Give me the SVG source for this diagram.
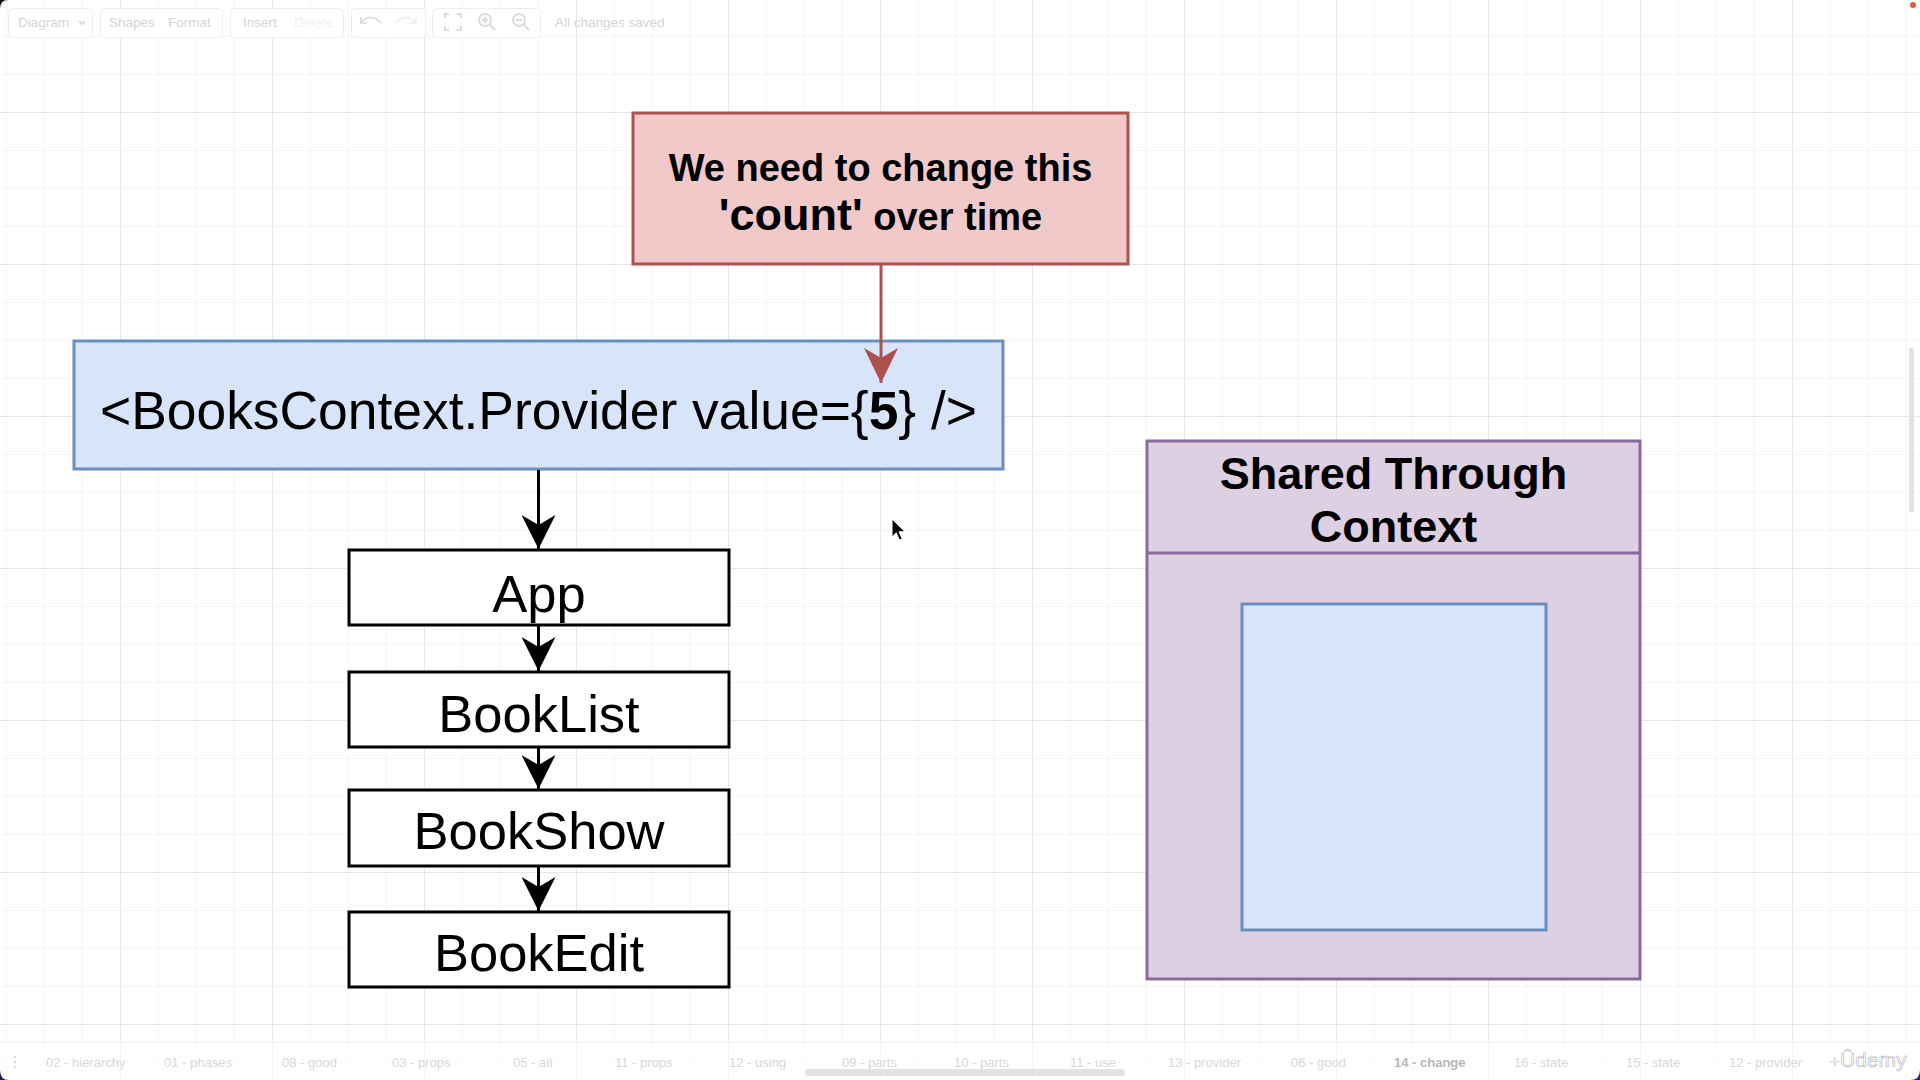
<svg xmlns="http://www.w3.org/2000/svg" width="1920" height="1080" viewBox="0 0 1920 1080">
<style>
.lbl{font-family:"Liberation Sans",Arial,Helvetica,sans-serif;fill:#000;text-anchor:middle}
.b{font-weight:bold}
.blk{fill:#fff;stroke:#000;stroke-width:3}
.ui{font-family:"Liberation Sans",Arial,Helvetica,sans-serif;font-size:13.5px;fill:#d4d4d4}
.tab{font-family:"Liberation Sans",Arial,Helvetica,sans-serif;font-size:13px;fill:#d8d8d8}
.tb{fill:#fff;stroke:#eeeeee;stroke-width:1}
.ico{fill:none;stroke:#dcdcdc;stroke-width:2}
.conn{stroke:#000;stroke-width:3;fill:none}
</style>
<defs>
<pattern id="grid" x="120" y="112" width="152" height="152" patternUnits="userSpaceOnUse">
<path d="M38.5 0V152M76.5 0V152M114.5 0V152M0 38.5H152M0 76.5H152M0 114.5H152" stroke="#f4f4f4" stroke-width="1" fill="none"/>
<path d="M0.5 0V152M0 0.5H152" stroke="#e6e6e6" stroke-width="1" fill="none"/>
</pattern>
<marker id="ahBlack" viewBox="0 0 34 34" markerUnits="userSpaceOnUse" markerWidth="34" markerHeight="34" refX="34" refY="17" orient="auto">
<path d="M0 0L34 17L0 34L10 17Z" fill="#000"/>
</marker>
<marker id="ahRed" viewBox="0 0 35 34" markerUnits="userSpaceOnUse" markerWidth="35" markerHeight="34" refX="35" refY="17" orient="auto">
<path d="M0 0L35 17L0 34L10 17Z" fill="#ac524e"/>
</marker>
</defs>

<rect width="1920" height="1080" fill="#ffffff"/>
<rect width="1920" height="1080" fill="url(#grid)"/>

<!-- top toolbar (faint UI) -->
<g id="toolbar">
<rect class="tb" x="8.5" y="8.5" width="84" height="29" rx="4"/>
<text class="ui" x="18" y="27">Diagram</text>
<path d="M79 21l3 3l3-3" class="ico" stroke-width="1.2"/>
<rect class="tb" x="100.5" y="8.5" width="122" height="29" rx="4"/>
<text class="ui" x="109" y="27">Shapes</text>
<text class="ui" x="168" y="27">Format</text>
<rect class="tb" x="230.5" y="8.5" width="113" height="29" rx="4"/>
<text class="ui" x="243" y="27">Insert</text>
<text class="ui" x="294" y="27" style="fill:#f0f0f0">Delete</text>
<rect class="tb" x="351.5" y="8.5" width="74" height="29" rx="4"/>
<path d="M362 22c5-6 13-6 19 1" class="ico"/><path d="M361 17v6h6" class="ico" stroke-width="1.6"/>
<path d="M415 22c-5-6-13-6-19 1" class="ico" style="stroke:#efefef"/><path d="M416 17v6h-6" class="ico" style="stroke:#efefef" stroke-width="1.6"/>
<rect class="tb" x="432.5" y="8.5" width="108" height="29" rx="4"/>
<path d="M445 18v-4h4M457 14h4v4M461 26v4h-4M449 30h-4v-4" class="ico"/>
<circle cx="485" cy="20" r="6" class="ico"/><path d="M489.5 24.5L495 30M482 20h6M485 17v6" class="ico" stroke-width="1.5"/>
<circle cx="519" cy="20" r="6" class="ico"/><path d="M523.5 24.5L529 30M516 20h6" class="ico" stroke-width="1.5"/>
<text class="ui" x="555" y="27">All changes saved</text>
</g>

<!-- nodes -->
<g id="node-red-note">
<rect x="633" y="113" width="495" height="151" fill="#f0c9c8" stroke="#ac524e" stroke-width="3"/>
<text class="lbl b" x="880.5" y="181" font-size="38">We need to change this</text>
<text class="lbl b" x="880.5" y="230" font-size="38"><tspan font-size="45">'count'</tspan> over time</text>
</g>

<g id="node-provider">
<rect x="74" y="341" width="929" height="128" fill="#d8e4fa" stroke="#6c8ebf" stroke-width="3"/>
<text class="lbl" x="538.5" y="429" font-size="53.4">&lt;BooksContext.Provider value={<tspan font-weight="bold">5</tspan>} /&gt;</text>
</g>

<g id="node-app">
<rect class="blk" x="349" y="550" width="380" height="75"/>
<text class="lbl" x="539" y="612" font-size="52.5">App</text>
</g>
<g id="node-booklist">
<rect class="blk" x="349" y="672" width="380" height="75"/>
<text class="lbl" x="539" y="732" font-size="52.5">BookList</text>
</g>
<g id="node-bookshow">
<rect class="blk" x="349" y="790" width="380" height="76"/>
<text class="lbl" x="539" y="849" font-size="52.5">BookShow</text>
</g>
<g id="node-bookedit">
<rect class="blk" x="349" y="912" width="380" height="75"/>
<text class="lbl" x="539" y="971" font-size="52.5">BookEdit</text>
</g>

<g id="node-context">
<rect x="1147" y="441" width="493" height="538" fill="#dcd0e2" stroke="#8a6b9b" stroke-width="3"/>
<line x1="1147" y1="553" x2="1640" y2="553" stroke="#8a6b9b" stroke-width="3"/>
<text class="lbl b" x="1393.5" y="489" font-size="45">Shared Through</text>
<text class="lbl b" x="1393.5" y="542" font-size="45">Context</text>
</g>
<g id="node-context-inner">
<rect x="1242" y="604" width="304" height="326" fill="#d8e4fa" stroke="#6c8ebf" stroke-width="3"/>
</g>

<!-- connectors -->
<g id="connectors">
<line class="conn" x1="538.5" y1="470" x2="538.5" y2="549" marker-end="url(#ahBlack)"/>
<line class="conn" x1="538.5" y1="626" x2="538.5" y2="671" marker-end="url(#ahBlack)"/>
<line class="conn" x1="538.5" y1="748" x2="538.5" y2="789" marker-end="url(#ahBlack)"/>
<line class="conn" x1="538.5" y1="867" x2="538.5" y2="911" marker-end="url(#ahBlack)"/>
<line x1="881" y1="265" x2="881" y2="383" stroke="#ac524e" stroke-width="3" marker-end="url(#ahRed)"/>
</g>

<!-- mouse cursor -->
<path d="M892 519v18l4.2-4.2l3.2 7.2l2.8-1.2l-3.2-7h6z" fill="#000" stroke="#fff" stroke-width="1"/>

<!-- right scrollbar -->
<rect x="1909" y="348" width="5" height="164" rx="2.5" fill="#e2e2e2"/>
<circle cx="1913" cy="5" r="3" fill="#e8583a"/>

<!-- bottom tab bar -->
<g id="tabbar">
<rect x="0" y="1042" width="1920" height="38" fill="#ffffff" fill-opacity="0.6"/>
<line x1="0" y1="1042.5" x2="1920" y2="1042.5" stroke="#efefef"/>
<circle cx="15" cy="1057" r="1.3" fill="#dcdcdc"/><circle cx="15" cy="1062" r="1.3" fill="#dcdcdc"/><circle cx="15" cy="1067" r="1.3" fill="#dcdcdc"/>
<text class="tab" x="46" y="1067">02 - hierarchy</text>
<text class="tab" x="164" y="1067">01 - phases</text>
<text class="tab" x="282" y="1067">08 - good</text>
<text class="tab" x="392" y="1067">03 - props</text>
<text class="tab" x="513" y="1067">05 - alt</text>
<text class="tab" x="615" y="1067">11 - props</text>
<text class="tab" x="729" y="1067">12 - using</text>
<text class="tab" x="842" y="1067">09 - parts</text>
<text class="tab" x="954" y="1067">10 - parts</text>
<text class="tab" x="1070" y="1067">11 - use</text>
<text class="tab" x="1168" y="1067">13 - provider</text>
<text class="tab" x="1291" y="1067">06 - good</text>
<text class="tab" x="1394" y="1067" font-weight="bold" style="fill:#b8b8b8">14 - change</text>
<text class="tab" x="1514" y="1067">16 - state</text>
<text class="tab" x="1626" y="1067">15 - state</text>
<text class="tab" x="1729" y="1067">12 - provider</text>
<rect x="805" y="1069" width="320" height="7" rx="3.5" fill="#e2e2e2"/>
<text x="1830" y="1067" font-family="'Liberation Sans',Arial,sans-serif" font-size="16" fill="#ffffff" stroke="#c8c8c8" stroke-width="0.6">+</text>
<text x="1840" y="1067" font-family="'Liberation Sans',Arial,sans-serif" font-size="21" fill="#ffffff" stroke="#bdbdbd" stroke-width="0.7">Ûdemy</text>
</g>

<!-- window corners -->
<path d="M0 0H8Q0 0 0 9Z" fill="#111"/>
<path d="M0 1080H9Q0 1080 0 1070Z" fill="#2a1a4a"/>
<path d="M1920 1080H1910Q1920 1080 1920 1070Z" fill="#3b1d6e"/>
</svg>
